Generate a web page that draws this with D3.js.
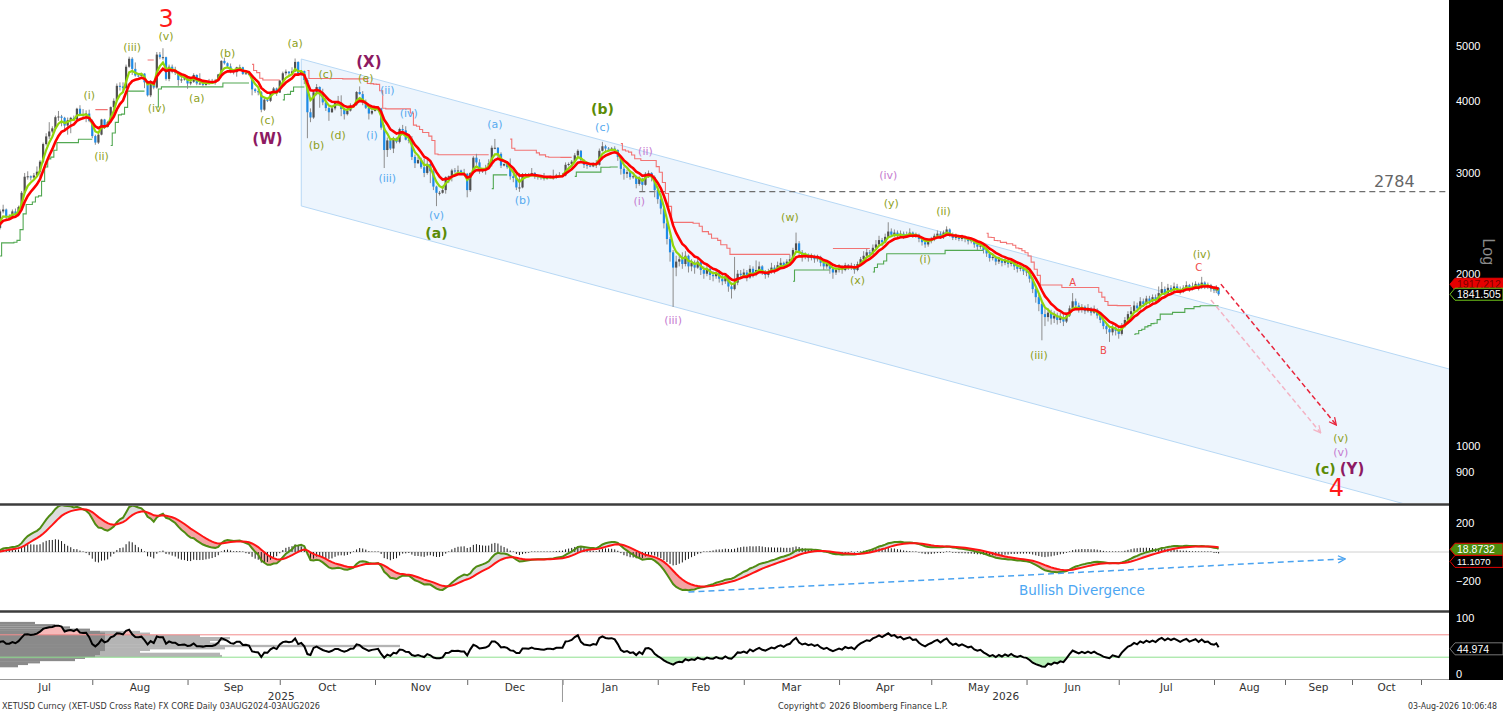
<!DOCTYPE html>
<html><head><meta charset="utf-8">
<script src="https://cdn.jsdelivr.net/npm/d3@7"></script>
<style>
body{margin:0;background:#fff}
svg{display:block}
</style></head>
<body>
<svg id="c" width="1503" height="712"></svg>
<script>
// ---------------- DATA ----------------
const firstDay = "2025-07-01";
const lastDayExclusive = "2026-08-04";
const firstOpen = 2485;
const close = [
// Jul 2025
2405,2570,2590,2510,2515,2570,2540,2615,2770,2955,2960,2945,2970,3015,3140,3370,3475,3545,3590,3755,3765,3745,3630,3710,3745,3720,3885,3800,3790,3810,3700,
// Aug
3480,3390,3500,3720,3610,3680,3910,4010,4260,4250,4220,4600,4750,4560,4440,4430,4475,4320,4100,4340,4230,4830,4780,4780,4380,4600,4510,4510,4360,4370,4390,
// Sep
4300,4330,4450,4300,4300,4275,4310,4305,4310,4350,4460,4710,4665,4605,4520,4500,4590,4590,4470,4480,4450,4200,4170,4150,3870,4030,4010,4140,4215,4145,
// Oct
4350,4480,4510,4480,4515,4690,4460,4520,4360,3830,3750,4150,4240,4120,3985,3895,3830,3890,3985,3980,3880,3800,3855,3935,3950,4155,4120,3980,3900,3810,3850,
// Nov
3870,3890,3600,3290,3420,3310,3450,3400,3580,3560,3430,3420,3200,3120,3160,3070,3000,3110,3020,2840,2770,2770,2800,2950,2960,3030,3020,3030,2990,2990,
// Dec
2800,3000,3190,3130,3020,3040,3060,3120,3320,3320,3240,3090,3110,3070,2960,2940,2830,2830,2980,2980,2970,3000,2960,2950,2940,2930,2950,2950,2940,2970,2970,
// Jan 2026
2970,3100,3110,3140,3220,3280,3160,3100,3090,3080,3110,3100,3280,3340,3310,3300,3310,3290,3200,3050,2990,3010,2950,2960,2870,2930,2860,2990,3000,2950,2800,
// Feb
2700,2600,2450,2300,2180,2050,2100,2120,2080,2150,2060,2090,2050,2100,2030,2000,2040,1990,1980,2010,1960,1940,1980,1900,1880,1930,2000,1990,
// Mar
2010,1970,2040,1990,2030,2060,2010,1990,2020,2050,2030,2070,2090,2060,2100,2120,2200,2260,2180,2140,2160,2130,2150,2120,2140,2090,2060,2080,2040,2010,2030,
// Apr
2050,2030,2070,2050,2060,2030,2080,2120,2150,2180,2170,2220,2250,2290,2270,2320,2370,2340,2360,2330,2350,2320,2340,2360,2330,2340,2300,2270,2250,2280,
// May
2300,2330,2350,2320,2360,2390,2340,2310,2330,2300,2320,2300,2280,2290,2250,2230,2240,2200,2170,2130,2140,2100,2120,2090,2110,2080,2100,2060,2040,2050,2020,
// Jun
2010,1960,1880,1820,1770,1700,1680,1710,1670,1690,1660,1680,1650,1690,1740,1790,1760,1730,1750,1720,1740,1710,1730,1690,1660,1620,1600,1580,1610,1590,
// Jul
1570,1620,1660,1700,1720,1760,1740,1790,1770,1810,1790,1820,1800,1850,1880,1850,1890,1870,1900,1880,1860,1890,1910,1880,1900,1920,1890,1930,1900,1910,1880,
// Aug
1870,1890,1841.505
];
const high = [
2510,2590,2640,2600,2540,2590,2600,2630,2790,3000,3020,2970,3000,3080,3160,3390,3520,3680,3620,3780,3850,3790,3760,3750,3760,3780,3900,3940,3880,3860,3870,
3720,3500,3520,3730,3730,3700,3920,4050,4300,4320,4320,4640,4790,4780,4680,4480,4490,4480,4340,4360,4340,4880,4880,4955,4790,4640,4640,4600,4510,4420,4400,
4400,4380,4480,4460,4480,4310,4330,4380,4380,4380,4470,4720,4770,4680,4660,4530,4600,4640,4600,4500,4490,4450,4220,4200,4170,4060,4040,4150,4240,4230,
4360,4510,4550,4520,4590,4755,4700,4540,4530,4390,3890,4170,4290,4250,4210,4080,3920,3910,4000,4090,4100,3900,3900,3970,3960,4170,4250,4170,4030,3920,3890,
3890,3920,3900,3640,3460,3440,3470,3460,3600,3640,3620,3500,3480,3230,3200,3190,3180,3170,3120,3050,2850,2790,2850,2960,2970,3050,3060,3090,3040,3050,
3000,3010,3210,3240,3170,3060,3100,3170,3350,3440,3330,3260,3120,3130,3180,2990,3000,3000,3000,3000,3000,3060,3010,2970,2960,3000,2960,2970,3040,2990,3010,
3000,3130,3130,3160,3250,3300,3290,3170,3140,3100,3130,3160,3310,3400,3360,3330,3330,3340,3300,3210,3080,3040,3030,2980,2970,2960,2940,3010,3030,3010,2970,
2830,2760,2620,2480,2320,2200,2150,2160,2180,2190,2160,2120,2110,2130,2110,2060,2080,2060,2020,2040,2030,1990,2000,1990,1930,2140,2030,2030,
2040,2030,2070,2060,2110,2100,2070,2030,2040,2090,2070,2100,2130,2100,2120,2160,2220,2360,2280,2200,2180,2170,2170,2160,2160,2150,2100,2100,2090,2050,2050,
2080,2070,2090,2080,2090,2080,2100,2140,2190,2210,2200,2250,2290,2330,2310,2350,2460,2400,2390,2380,2380,2370,2370,2400,2370,2360,2350,2310,2290,2300,
2320,2350,2380,2370,2380,2420,2400,2360,2350,2340,2340,2330,2320,2310,2300,2270,2260,2250,2220,2180,2170,2150,2140,2130,2130,2120,2120,2110,2080,2070,2060,
2040,2020,1970,1900,1840,1790,1740,1740,1730,1720,1710,1710,1700,1710,1760,1850,1810,1780,1770,1760,1770,1750,1760,1740,1700,1670,1640,1620,1630,1620,
1610,1640,1680,1720,1750,1790,1780,1820,1810,1830,1830,1840,1840,1900,1935,1900,1920,1910,1930,1920,1900,1910,1940,1920,1930,1940,1930,1975,1940,1930,1920,
1900,1910,1895
];
const low = [
2380,2390,2550,2480,2490,2500,2520,2520,2600,2760,2920,2910,2930,2960,2950,3120,3350,3440,3520,3570,3700,3620,3540,3500,3520,3700,3710,3780,3740,3680,3680,
3450,3360,3370,3490,3580,3600,3670,3880,4000,4180,4180,4200,4580,4450,4420,4410,4420,4220,4080,4070,4200,4210,4740,4730,4350,4340,4480,4450,4260,4310,4350,
4210,4270,4310,4270,4280,4250,4260,4280,4290,4280,4340,4450,4640,4580,4480,4460,4420,4560,4450,4460,4440,4100,4140,4100,3830,3850,3990,3990,4120,4090,
4140,4330,4440,4440,4460,4500,4440,4440,4290,3450,3680,3730,4100,3900,3940,3850,3700,3820,3860,3930,3770,3720,3780,3840,3910,3930,4110,3940,3880,3720,3790,
3840,3850,3570,3060,3200,3290,3250,3380,3380,3540,3420,3380,3160,3060,3110,3050,2950,2980,2880,2800,2625,2740,2760,2760,2880,2900,3000,2990,2980,2970,
2720,2780,2990,3100,2990,3000,2980,3050,3080,3300,3160,3060,3080,3050,2920,2890,2800,2780,2820,2960,2950,2960,2930,2920,2920,2910,2920,2930,2920,2930,2960,
2950,2960,3080,3090,3130,3190,3140,3060,3050,3070,3070,3060,3090,3270,3260,3270,3290,3260,3150,2980,2920,2940,2920,2930,2820,2850,2790,2850,2940,2900,2720,
2650,2540,2400,2250,2100,1750,1980,2060,2040,2060,2010,2020,2000,2040,1990,1960,1980,1950,1940,1960,1930,1910,1920,1860,1810,1870,1910,1960,
1970,1940,1960,1970,1980,2010,1990,1960,1970,2000,2000,2020,2050,2040,2050,2080,2110,2190,2150,2100,2120,2100,2110,2090,2100,2060,2030,2040,2000,1960,1990,
2010,2000,2020,2030,2030,2000,2020,2070,2100,2130,2140,2160,2200,2230,2240,2260,2310,2320,2320,2300,2310,2300,2310,2320,2310,2310,2270,2240,2220,2230,
2260,2280,2310,2300,2300,2340,2320,2290,2290,2280,2280,2270,2250,2260,2220,2200,2210,2170,2140,2100,2110,2070,2080,2060,2070,2050,2060,2030,2010,2020,1990,
1980,1930,1850,1780,1720,1530,1620,1650,1630,1640,1630,1640,1620,1640,1680,1730,1740,1710,1710,1700,1710,1690,1700,1670,1640,1600,1570,1520,1560,1560,
1540,1560,1610,1650,1690,1710,1720,1730,1750,1760,1770,1780,1780,1790,1840,1830,1840,1850,1860,1860,1840,1850,1880,1860,1870,1890,1870,1880,1880,1880,1860,
1850,1850,1830
];

// axis tick values / labels
const priceTicks = [900,1000,2000,3000,4000,5000];
const macdTicks = [-200,200];
const rsiTicks = [0,100];
const monthStarts = ["2025-07-01","2025-08-01","2025-09-01","2025-10-01","2025-11-01","2025-12-01","2026-01-01","2026-02-01","2026-03-01","2026-04-01","2026-05-01","2026-06-01","2026-07-01","2026-08-01","2026-09-01","2026-10-01","2026-11-01"];
const yearLabels = ["2025","2026"];
const lastTags = {upper:"1917.212", last:"1841.505", macd:"18.8732", signal:"11.1070", rsi:"44.974"};
const lastValues = {upper:1917.212, last:1841.505, macd:18.8732, signal:11.107, rsi:44.974};

// RSI distribution profile (left of RSI panel)
const rsiProfileLevel = [91,87,83,79,75,72,68,64,61,57,54,50,46,43,39,36,32,29,25,21,18,14];
const rsiProfileCore  = [35,55,70,90,100,105,105,105,105,105,105,105,105,105,100,100,95,85,75,40,28,18];
const rsiProfileWide  = [0,0,0,0,140,150,200,230,225,210,220,400,225,150,140,220,222,0,0,0,0,0];

// annotations
const level2784 = {value:2784, from:"2026-01-26", to:"2026-11-14", labelDate:"2026-10-20"};
const channel = {from:"2025-10-08", to:"2026-11-14", upper:[4745,1362], lower:[2627,754]};
const projRed  = [["2026-08-04",1918],["2026-09-24",1088]];
const projPink = [["2026-07-31",1800],["2026-09-17",1054]];
const macdArrow = [["2026-02-11",-276],["2026-09-28",-48]];
const divergenceLabel = ["Bullish Divergence","2026-06-19",-262];
const waveLabels = [
["3","2025-08-25",5575,"rbig"],
["(v)","2025-08-25",5185,"ol"],
["(iii)","2025-08-14",4961,"ol"],
["(i)","2025-07-31",4090,"ol"],
["(ii)","2025-08-04",3200,"ol"],
["(iv)","2025-08-22",3881,"ol"],
["(a)","2025-09-04",4041,"ol"],
["(b)","2025-09-14",4843,"ol"],
["(c)","2025-09-27",3698,"ol"],
["(W)","2025-09-27",3440,"mb"],
["(a)","2025-10-06",5042,"ol"],
["(X)","2025-10-30",4690,"mb"],
["(c)","2025-10-16",4450,"ol"],
["(e)","2025-10-29",4379,"ol"],
["(b)","2025-10-13",3344,"ol"],
["(d)","2025-10-20",3482,"ol"],
["(ii)","2025-11-05",4173,"bl"],
["(iv)","2025-11-12",3804,"bl"],
["(i)","2025-10-31",3482,"bl"],
["(iii)","2025-11-05",2928,"bl"],
["(v)","2025-11-21",2533,"bl"],
["(a)","2025-11-21",2356,"gb"],
["(a)","2025-12-10",3639,"bl"],
["(b)","2025-12-19",2680,"bl"],
["(c)","2026-01-14",3596,"bl"],
["(b)","2026-01-14",3881,"gb"],
["(ii)","2026-01-28",3264,"pu"],
["(i)","2026-01-26",2670,"pu"],
["(iii)","2026-02-06",1660,"pu"],
["(iv)","2026-04-17",2964,"pu"],
["(w)","2026-03-16",2503,"ol"],
["(x)","2026-04-07",1950,"ol"],
["(y)","2026-04-18",2648,"ol"],
["(ii)","2026-05-05",2564,"ol"],
["(i)","2026-04-29",2122,"ol"],
["(iii)","2026-06-05",1442,"ol"],
["A","2026-06-16",1927,"rs"],
["B","2026-06-26",1466,"rs"],
["C","2026-07-27",2047,"rs"],
["(iv)","2026-07-28",2165,"ol"],
["(v)","2026-09-26",1029,"ol"],
["(v)","2026-09-26",976,"pu"],
["(c)","2026-09-19",912,"gb"],
["(Y)","2026-10-01",912,"mb"],
["4","2026-09-24",845,"rbig"]
];
const labelStyles = {
  ol:{fill:"#8e9f1c",size:11,weight:"normal"},
  bl:{fill:"#57aaef",size:11,weight:"normal"},
  pu:{fill:"#c57bd0",size:11,weight:"normal"},
  gb:{fill:"#5b8b06",size:14,weight:"bold"},
  mb:{fill:"#8d1a62",size:15,weight:"bold"},
  rbig:{fill:"#ff1a1a",size:24,weight:"normal"},
  rs:{fill:"#f04b4b",size:10,weight:"normal"}
};
const footer = ["XETUSD Curncy (XET-USD Cross Rate) FX CORE Daily 03AUG2024-03AUG2026","Copyright\u00a9 2026 Bloomberg Finance L.P.","03-Aug-2026 10:06:48"];

// ---------------- SCALES ----------------
const parse = d3.utcParse("%Y-%m-%d");
const svg = d3.select("#c");
const PR = 1449; // plot right edge
const x = d3.scaleUtc()
  .domain(["2025-07-01","2026-08-01","2026-09-01","2026-10-01","2026-11-01"].map(parse))
  .range([-3,1214,1285,1352,1421]);
const yP = d3.scaleLog().domain([1000,5000]).range([446,46]);
const yM = d3.scaleLinear().domain([-200,200]).range([581,523]);
const yR = d3.scaleLinear().domain([0,100]).range([674,618]);

const days = d3.utcDay.range(parse(firstDay), parse(lastDayExclusive));
const bars = days.map((d,i)=>{
  const o = i ? close[i-1] : firstOpen, c = close[i];
  return {d, o, c, h:Math.max(high[i],o,c), l:Math.min(low[i],o,c)};
});

// ---------------- INDICATORS ----------------
function ema(a,n){const k=2/(n+1);let p=a[0];return a.map((v,i)=>(p=i?v*k+p*(1-k):v));}
const maFast = ema(close,4), maSlow = ema(close,8);
const ema26 = ema(close,26), ema12 = ema(close,12);
const macdL = ema12.map((v,i)=>v-ema26[i]);
const sig = ema(macdL,9);
const hist = macdL.map((v,i)=>v-sig[i]);
// RSI 14 (Wilder)
const ch = close.map((v,i)=>i?v-close[i-1]:0);
let ag = d3.mean(ch.slice(1,15).map(Math.abs))/2, al = ag;
const rsi = ch.map((v,i)=>{ if(i){ag=(ag*13+Math.max(v,0))/14; al=(al*13+Math.max(-v,0))/14;} return 100-100/(1+ag/al); });
// SuperTrend (ATR 10, x2.5)
(function(){
  const n=10,m=2.5;
  const tr = bars.map((b,i)=> i? Math.max(b.h-b.l,Math.abs(b.h-bars[i-1].c),Math.abs(b.l-bars[i-1].c)) : b.h-b.l);
  let atr = d3.mean(tr.slice(0,n)), fu, fl, t=1;
  bars.forEach((b,i)=>{
    if(i) atr=(atr*(n-1)+tr[i])/n;
    const mid=(b.h+b.l)/2, bu=mid+m*atr, bl=mid-m*atr;
    if(!i){fu=bu;fl=bl;}
    else{
      const pc=bars[i-1].c;
      fu = (bu<fu || pc>fu) ? bu : fu;
      fl = (bl>fl || pc<fl) ? bl : fl;
    }
    if(t===1 && b.c<fl) t=-1; else if(t===-1 && b.c>fu) t=1;
    b.st = t===1?fl:fu; b.tr=t;
  });
})();

// ---------------- DRAW ----------------
svg.append("rect").attr("width",1503).attr("height",712).attr("fill","#fff");
const defs = svg.append("defs");
defs.append("clipPath").attr("id","cpMain").append("rect").attr("x",0).attr("y",0).attr("width",PR).attr("height",503);
defs.append("clipPath").attr("id","cpMacd").append("rect").attr("x",0).attr("y",506).attr("width",PR).attr("height",104);
defs.append("clipPath").attr("id","cpRsi").append("rect").attr("x",0).attr("y",613).attr("width",PR).attr("height",66);
function marker(id,color){
  defs.append("marker").attr("id",id).attr("viewBox","0 0 10 10").attr("refX",9).attr("refY",5)
    .attr("markerWidth",9).attr("markerHeight",9).attr("markerUnits","userSpaceOnUse").attr("orient","auto")
    .append("path").attr("d","M1,1 L9,5 L1,9").attr("fill","none").attr("stroke",color).attr("stroke-width",1.4);
}
marker("mRed","#e8233a"); marker("mPink","#f3b3c4"); marker("mBlue","#4aa3f0");

const gMain = svg.append("g").attr("clip-path","url(#cpMain)");
// channel
const ch0=parse(channel.from), ch1=parse(channel.to);
gMain.append("path")
  .attr("d",`M${x(ch0)},${yP(channel.upper[0])}L${x(ch1)},${yP(channel.upper[1])}L${x(ch1)},${yP(channel.lower[1])}L${x(ch0)},${yP(channel.lower[0])}Z`)
  .attr("fill","#edf5fd").attr("stroke","#b7d8f5").attr("stroke-width",1);
// 2784 dashed level
gMain.append("line").attr("x1",x(parse(level2784.from))).attr("x2",x(parse(level2784.to)))
  .attr("y1",yP(level2784.value)).attr("y2",yP(level2784.value))
  .attr("stroke","#6e6e6e").attr("stroke-width",1.2).attr("stroke-dasharray","6,4");
svg.append("text").attr("x",x(parse(level2784.labelDate))).attr("y",yP(level2784.value)-10)
  .attr("text-anchor","middle").attr("dominant-baseline","central")
  .attr("font-family","DejaVu Sans").attr("font-size",16).attr("fill","#666").text(String(level2784.value));
// SuperTrend steps
[[1,"#52a852"],[-1,"#f27373"]].forEach(([t,col])=>{
  gMain.append("path").datum(bars)
    .attr("d",d3.line().defined(b=>b.tr===t).x(b=>x(b.d)).y(b=>yP(b.st)).curve(d3.curveStep))
    .attr("fill","none").attr("stroke",col).attr("stroke-width",1.1);
});
// bars
const gb = gMain.append("g");
gb.selectAll("line").data(bars).join("line")
  .attr("x1",b=>x(b.d)).attr("x2",b=>x(b.d)).attr("y1",b=>yP(b.h)).attr("y2",b=>yP(b.l))
  .attr("stroke","#8c8c8c").attr("stroke-width",1);
gb.selectAll("rect").data(bars).join("rect")
  .attr("x",b=>x(b.d)-1.1).attr("width",2.2)
  .attr("y",b=>Math.min(yP(b.o),yP(b.c)))
  .attr("height",b=>Math.max(1,Math.abs(yP(b.o)-yP(b.c))))
  .attr("fill",b=>b.c>=b.o?"#505050":"#1f8be6");
// MAs
gMain.append("path").datum(maFast).attr("d",d3.line().x((v,i)=>x(days[i])).y(v=>yP(v)))
  .attr("fill","none").attr("stroke","#92d60a").attr("stroke-width",2.2);
gMain.append("path").datum(maSlow).attr("d",d3.line().x((v,i)=>x(days[i])).y(v=>yP(v)))
  .attr("fill","none").attr("stroke","#ff0000").attr("stroke-width",2.6);
// projection arrows
function arrow(g,pts,yS,col,mk,dash){
  g.append("line").attr("x1",x(parse(pts[0][0]))).attr("y1",yS(pts[0][1]))
   .attr("x2",x(parse(pts[1][0]))).attr("y2",yS(pts[1][1]))
   .attr("stroke",col).attr("stroke-width",1.5).attr("stroke-dasharray",dash).attr("marker-end",`url(#${mk})`);
}
arrow(gMain,projPink,yP,"#f3b3c4","mPink","5,3");
arrow(gMain,projRed,yP,"#e8233a","mRed","5,3");
// wave labels
svg.append("g").selectAll("text").data(waveLabels).join("text")
  .attr("x",d=>x(parse(d[1]))).attr("y",d=>yP(d[2]))
  .attr("text-anchor","middle").attr("dominant-baseline","central")
  .attr("font-family","DejaVu Sans")
  .attr("font-size",d=>labelStyles[d[3]].size).attr("font-weight",d=>labelStyles[d[3]].weight)
  .attr("fill",d=>labelStyles[d[3]].fill).text(d=>d[0]);

// MACD panel
const gM = svg.append("g").attr("clip-path","url(#cpMacd)");
gM.append("line").attr("x1",0).attr("x2",PR).attr("y1",yM(0)).attr("y2",yM(0)).attr("stroke","#d0d0d0").attr("stroke-width",1);
gM.append("path").datum(macdL).attr("d",d3.area().x((v,i)=>x(days[i])).y0((v,i)=>yM(sig[i])).y1((v,i)=>yM(Math.max(v,sig[i]))))
  .attr("fill","#dcdcdc");
gM.append("path").datum(macdL).attr("d",d3.area().x((v,i)=>x(days[i])).y0((v,i)=>yM(sig[i])).y1((v,i)=>yM(Math.min(v,sig[i]))))
  .attr("fill","#f3a3a3");
gM.append("g").selectAll("line").data(hist).join("line")
  .attr("x1",(v,i)=>x(days[i])).attr("x2",(v,i)=>x(days[i]))
  .attr("y1",yM(0)).attr("y2",v=>Math.abs(yM(v)-yM(0))<0.6?yM(0)-0.6:yM(v))
  .attr("stroke","#1a1a1a").attr("stroke-width",1);
gM.append("path").datum(macdL).attr("d",d3.line().x((v,i)=>x(days[i])).y(v=>yM(v)))
  .attr("fill","none").attr("stroke","#4f8b12").attr("stroke-width",2);
gM.append("path").datum(sig).attr("d",d3.line().x((v,i)=>x(days[i])).y(v=>yM(v)))
  .attr("fill","none").attr("stroke","#ff1414").attr("stroke-width",2);
arrow(gM,macdArrow,yM,"#4aa3f0","mBlue","6,4");
svg.append("text").attr("x",x(parse(divergenceLabel[1]))).attr("y",yM(divergenceLabel[2]))
  .attr("text-anchor","middle").attr("dominant-baseline","central")
  .attr("font-family","DejaVu Sans").attr("font-size",13.5).attr("fill","#4ca6f2").text(divergenceLabel[0]);

// RSI panel
const gR = svg.append("g").attr("clip-path","url(#cpRsi)");
const bh = 2.3;
gR.selectAll("rect.w").data(rsiProfileLevel).join("rect").attr("class","w")
  .attr("x",0).attr("y",v=>yR(v)-bh/2).attr("height",bh).attr("width",(v,i)=>rsiProfileWide[i]).attr("fill","#b4b4b4");
gR.selectAll("rect.c").data(rsiProfileLevel).join("rect").attr("class","c")
  .attr("x",0).attr("y",v=>yR(v)-bh/2).attr("height",bh).attr("width",(v,i)=>rsiProfileCore[i]).attr("fill","#8a8a8a");
gR.append("path").datum(rsi).attr("d",d3.area().x((v,i)=>x(days[i])).y0(yR(70)).y1(v=>yR(Math.max(v,70))))
  .attr("fill","#f6b9b9");
gR.append("path").datum(rsi).attr("d",d3.area().x((v,i)=>x(days[i])).y0(yR(30)).y1(v=>yR(Math.min(v,30))))
  .attr("fill","#b9f0b9");
gR.append("line").attr("x1",0).attr("x2",PR).attr("y1",yR(70)).attr("y2",yR(70)).attr("stroke","#f28a8a").attr("stroke-width",1);
gR.append("line").attr("x1",0).attr("x2",PR).attr("y1",yR(30)).attr("y2",yR(30)).attr("stroke","#8ee08e").attr("stroke-width",1);
gR.append("path").datum(rsi).attr("d",d3.line().x((v,i)=>x(days[i])).y(v=>yR(v)))
  .attr("fill","none").attr("stroke","#000").attr("stroke-width",2);

// panel separators
[504.5,611.5].forEach(y=>svg.append("line").attr("x1",0).attr("x2",PR).attr("y1",y).attr("y2",y).attr("stroke","#3c3c3c").attr("stroke-width",2.6));
svg.append("line").attr("x1",0).attr("x2",PR).attr("y1",679.5).attr("y2",679.5).attr("stroke","#999").attr("stroke-width",1);

// right black axis panel
svg.append("rect").attr("x",PR).attr("y",0).attr("width",1503-PR).attr("height",680).attr("fill","#000");
function rightAxis(scale,ticks,fmt){
  const g = svg.append("g").attr("transform",`translate(${PR+5},0)`)
    .call(d3.axisRight(scale).tickValues(ticks).tickSize(0).tickPadding(2).tickFormat(fmt));
  g.select(".domain").remove();
  g.selectAll("text").attr("fill","#fff").attr("font-family","Liberation Sans").attr("font-size",11);
}
rightAxis(yP,priceTicks,d3.format("d"));
rightAxis(yM,macdTicks,d3.format("d"));
rightAxis(yR,rsiTicks,d3.format("d"));
svg.append("text").attr("transform",`translate(1488,${yP(2000)-22}) rotate(90)`)
  .attr("text-anchor","middle").attr("dominant-baseline","central")
  .attr("font-family","Liberation Sans").attr("font-size",16).attr("fill","#8a8a8a").text("Log");
// value tags
function tag(y,fill,stroke,txt,txtCol,fs){
  svg.append("path").attr("d",`M${PR+1},${y} L${PR+6},${y-6} L1503,${y-6} L1503,${y+6} L${PR+6},${y+6} Z`)
    .attr("fill",fill).attr("stroke",stroke).attr("stroke-width",1);
  svg.append("text").attr("x",PR+8).attr("y",y).attr("dominant-baseline","central")
    .attr("font-family","Liberation Sans").attr("font-size",fs||11).attr("fill",txtCol).text(txt);
}
tag(yP(lastValues.upper),"#e60000","#e60000",lastTags.upper,"#7a0000",10.5);
tag(yP(lastValues.last),"#000","#6fc21a",lastTags.last,"#fff",10.5);
tag(yM(lastValues.signal)+11,"#000","#e60000",lastTags.signal,"#fff",9.5);
tag(yM(lastValues.macd),"#4c8c0c","#e60000",lastTags.macd,"#fff",10.5);
tag(yR(lastValues.rsi),"#000","#777",lastTags.rsi,"#fff",10.5);

// x axis
const ms = monthStarts.map(parse);
const xa = svg.append("g").attr("transform","translate(0,680)")
  .call(d3.axisBottom(x).tickValues(ms.slice(1)).tickSize(5).tickFormat(""));
xa.select(".domain").remove();
xa.selectAll("line").attr("stroke","#666");
const fmtM = d3.utcFormat("%b");
svg.append("g").selectAll("text").data(ms.slice(0,-1)).join("text")
  .attr("x",(d,i)=>(x(d)+x(ms[i+1]))/2).attr("y",687).attr("text-anchor","middle").attr("dominant-baseline","central")
  .attr("font-family","DejaVu Sans").attr("font-size",10.5).attr("fill","#333").text(d=>fmtM(d));
const xY = x(parse("2026-01-01"));
svg.append("line").attr("x1",xY).attr("x2",xY).attr("y1",680).attr("y2",702).attr("stroke","#999");
[[yearLabels[0],xY/2],[yearLabels[1],(xY+PR)/2]].forEach(([t,cx])=>
  svg.append("text").attr("x",cx).attr("y",696).attr("text-anchor","middle").attr("dominant-baseline","central")
   .attr("font-family","DejaVu Sans").attr("font-size",10.5).attr("fill","#333").text(t));
// footer
svg.append("text").attr("x",2).attr("y",706).attr("dominant-baseline","central").attr("font-family","DejaVu Sans")
  .attr("font-size",8).attr("fill","#333").attr("textLength",318).attr("lengthAdjust","spacingAndGlyphs").text(footer[0]);
svg.append("text").attr("x",778).attr("y",706).attr("dominant-baseline","central").attr("font-family","DejaVu Sans")
  .attr("font-size",8).attr("fill","#333").attr("textLength",170).attr("lengthAdjust","spacingAndGlyphs").text(footer[1]);
svg.append("text").attr("x",1497).attr("y",706).attr("text-anchor","end").attr("dominant-baseline","central").attr("font-family","DejaVu Sans")
  .attr("font-size",8).attr("fill","#333").attr("textLength",89).attr("lengthAdjust","spacingAndGlyphs").text(footer[2]);
</script>
</body></html>
